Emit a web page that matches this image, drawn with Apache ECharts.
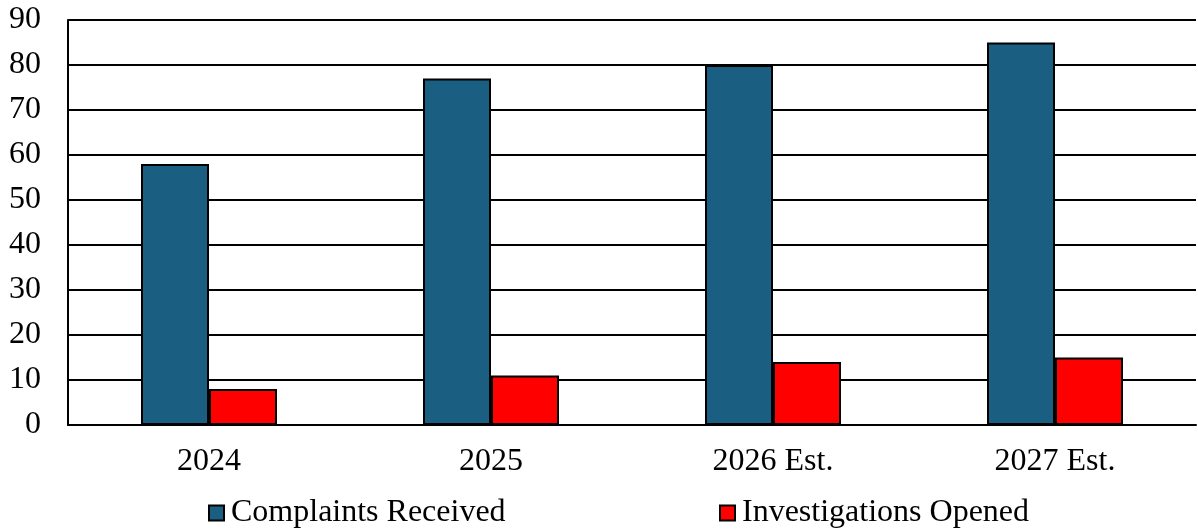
<!DOCTYPE html>
<html>
<head>
<meta charset="utf-8">
<script src="https://cdn.jsdelivr.net/npm/echarts@6/dist/echarts.min.js"></script>
<style>
  html, body { margin: 0; padding: 0; background: #fff; }
  #chart { width: 1198px; height: 529px; }
</style>
</head>
<body>
<div id="chart"></div>
<script>
// Yearly counts, with estimates for the last two years
const categories = ['2024', '2025', '2026 Est.', '2027 Est.'];
const complaintsReceived = [58, 77, 80, 85];
const investigationsOpened = [8, 11, 14, 15];
const seriesNames = ['Complaints Received', 'Investigations Opened'];

const FONT = '"Liberation Serif", "Times New Roman", serif';
const chart = echarts.init(document.getElementById('chart'), null, { renderer: 'canvas' });

const legendText = { fontFamily: FONT, fontSize: 32, color: '#000', padding: [0, 0, 0, 2] };

chart.setOption({
  animation: false,
  backgroundColor: '#fff',
  grid: { left: 68, right: 2, top: 20, bottom: 104, containLabel: false },
  legend: [
    {
      data: [seriesNames[0]], left: 203, top: 492, itemWidth: 15, itemHeight: 15,
      itemGap: 0, textStyle: legendText, icon: 'rect'
    },
    {
      data: [seriesNames[1]], left: 714, top: 492, itemWidth: 15, itemHeight: 15,
      itemGap: 0, textStyle: legendText, icon: 'rect'
    }
  ],
  xAxis: {
    type: 'category',
    data: categories,
    axisLine: { show: true, lineStyle: { color: '#000', width: 2 } },
    axisTick: { show: false },
    axisLabel: { fontFamily: FONT, fontSize: 32, color: '#000', margin: 21 }
  },
  yAxis: {
    type: 'value',
    min: 0, max: 90, interval: 10,
    axisLine: { show: true, lineStyle: { color: '#000', width: 2 } },
    axisTick: { show: false },
    axisLabel: { fontFamily: FONT, fontSize: 32, color: '#000', margin: 27 },
    splitLine: { show: true, lineStyle: { color: '#000', width: 2 } }
  },
  series: [
    {
      name: seriesNames[0], type: 'bar', data: complaintsReceived,
      barGap: '0%', barWidth: 68,
      itemStyle: { color: '#1a5f82', borderColor: '#000', borderWidth: 2 }
    },
    {
      name: seriesNames[1], type: 'bar', data: investigationsOpened,
      barWidth: 68,
      itemStyle: { color: '#ff0000', borderColor: '#000', borderWidth: 2 }
    }
  ]
});
</script>
</body>
</html>
